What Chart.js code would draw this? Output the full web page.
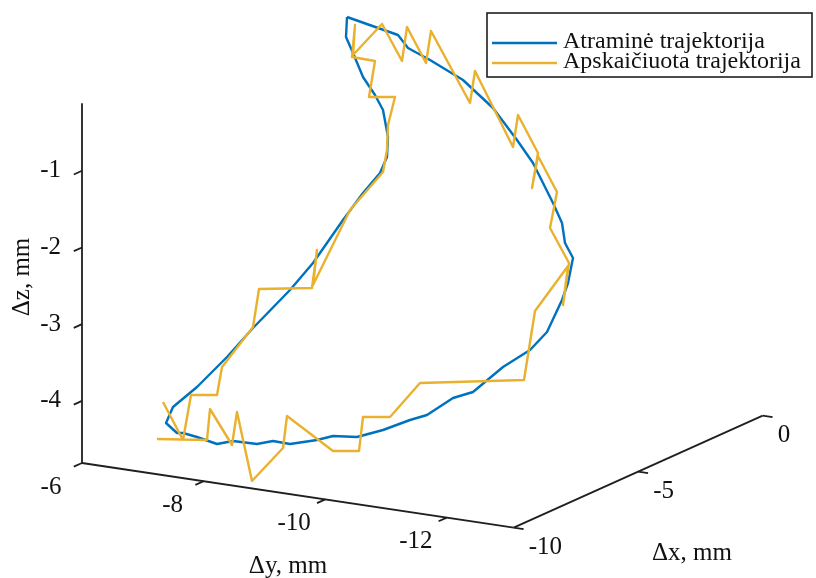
<!DOCTYPE html>
<html>
<head>
<meta charset="utf-8">
<script src="https://cdn.jsdelivr.net/npm/chart.js@4.4.1/dist/chart.umd.min.js"></script>
<style>
  body { margin: 0; background: #fff; }
  #wrap { width: 816px; height: 578px; }
</style>
</head>
<body>
<div id="wrap"><canvas id="traj"></canvas></div>
<script>
var refU = [347, 398, 408, 430, 463, 493, 517, 533, 553, 562, 565, 573, 568, 562, 547, 530, 503, 473, 453, 427, 410, 383, 357, 333, 317, 290, 273, 257, 233, 217, 197, 183, 177, 166, 173, 197, 227, 253, 290, 313, 343, 363, 380, 387, 388, 383, 375, 363, 353, 346, 347];
var refV = [17, 35, 48, 60, 80, 108, 140, 163, 203, 223, 243, 258, 283, 300, 332, 350, 367, 392, 398, 415, 420, 430, 437, 436, 440, 444, 441, 444, 441, 444, 437, 433, 433, 423, 407, 387, 357, 328, 290, 263, 220, 193, 173, 157, 137, 110, 95, 77, 53, 37, 17];

var calcU = [163, 183, 191, 217, 222, 253, 259, 312, 317, 313, 350, 383, 387, 388, 395, 369, 375, 352, 355, 353, 382, 402, 407, 426, 431, 470, 475, 513, 518, 538, 532, 538, 557, 550, 569, 563, 568, 535, 524, 420, 390, 363, 359, 333, 287, 283, 252, 237, 232, 210, 207, 157];
var calcV = [402, 440, 395, 395, 367, 327, 289, 288, 250, 285, 210, 172, 150, 125, 97, 97, 61, 57, 25, 55, 24, 61, 27, 63, 31, 103, 71, 147, 115, 153, 188, 156, 192, 228, 263, 305, 266, 311, 380, 383, 417, 417, 451, 451, 416, 448, 481, 412, 445, 409, 440, 439];

// axis ticks (mm)
var xTicks = [-10, -5, 0];
var yTicks = [-6, -8, -10, -12];
var zTicks = [-1, -2, -3, -4];
var xLim = [-10, 0];
var yLim = [-13.1, -6];
var zLim = [-4.81, -0.12];

// view: where the corner (xmin, ymax, zmin) lands and how one mm moves on screen
var corner = { u: 82, v: 463 };
var ex = { u: 24.9, v: -11.2 };
var ey = { u: -60.8, v: -9.1 };
var ez = { u: 0, v: -76.7 };

function proj(x, y, z) {
  var a = x - xLim[0], b = y - yLim[1], c = z - zLim[0];
  return { x: corner.u + a*ex.u + b*ey.u + c*ez.u,
           y: corner.v + a*ex.v + b*ey.v + c*ez.v };
}

function zip(us, vs) {
  return us.map(function(u, i) { return { x: u, y: vs[i] }; });
}

var axisColor = '#1f1f1f';
var font = "25px 'Liberation Serif', 'Times New Roman', serif";
var legendFont = "24px 'Liberation Serif', 'Times New Roman', serif";

function axisLine(pts) {
  return { data: pts, showLine: true, borderColor: axisColor, borderWidth: 1.8,
           pointRadius: 0, fill: false, order: 3 };
}

var datasets = [
  {
    label: 'Atraminė trajektorija',
    data: zip(refU, refV),
    showLine: true,
    borderColor: '#0072BD',
    borderWidth: 2.4,
    pointRadius: 0,
    borderJoinStyle: 'round',
    order: 2
  },
  {
    label: 'Apskaičiuota trajektorija',
    data: zip(calcU, calcV),
    showLine: true,
    borderColor: '#E9B12E',
    borderWidth: 2.4,
    pointRadius: 0,
    borderJoinStyle: 'round',
    order: 1
  }
];

// the three axes
datasets.push(axisLine([proj(xLim[0], yLim[1], zLim[0]), proj(xLim[0], yLim[1], zLim[1])]));
datasets.push(axisLine([proj(xLim[0], yLim[1], zLim[0]), proj(xLim[0], yLim[0], zLim[0])]));
datasets.push(axisLine([proj(xLim[0], yLim[0], zLim[0]), proj(xLim[1], yLim[0], zLim[0])]));

// tick marks
var exLen = Math.hypot(ex.u, ex.v), eyLen = Math.hypot(ey.u, ey.v);
zTicks.forEach(function(t) {
  var p = proj(xLim[0], yLim[1], t);
  datasets.push(axisLine([p, { x: p.x - 9*ex.u/exLen, y: p.y - 9*ex.v/exLen }]));
});
yTicks.forEach(function(t) {
  var p = proj(xLim[0], t, zLim[0]);
  datasets.push(axisLine([p, { x: p.x - 9*ex.u/exLen, y: p.y - 9*ex.v/exLen }]));
});
xTicks.forEach(function(t) {
  var p = proj(t, yLim[0], zLim[0]);
  datasets.push(axisLine([p, { x: p.x - 10*ey.u/eyLen, y: p.y - 10*ey.v/eyLen }]));
});

// tick labels, axis titles and legend
var textPlugin = {
  id: 'textPlugin',
  afterDraw: function(chart) {
    var ctx = chart.ctx;
    var sx = chart.scales.x, sy = chart.scales.y;
    function px(p) { return { x: sx.getPixelForValue(p.x), y: sy.getPixelForValue(p.y) }; }
    ctx.save();
    ctx.font = font;
    ctx.fillStyle = '#111';
    ctx.textBaseline = 'middle';

    ctx.textAlign = 'right';
    zTicks.forEach(function(t) {
      var p = px(proj(xLim[0], yLim[1], t));
      ctx.fillText(String(t), p.x - 21, p.y);
    });
    ctx.textAlign = 'center';
    yTicks.forEach(function(t) {
      var p = px(proj(xLim[0], t, zLim[0]));
      ctx.fillText(String(t), p.x - 31, p.y + 24);
    });
    ctx.textAlign = 'left';
    xTicks.forEach(function(t) {
      var p = px(proj(t, yLim[0], zLim[0]));
      ctx.fillText(String(t), p.x + 15, p.y + 20);
    });

    ctx.textAlign = 'center';
    ctx.fillText('Δy, mm', 288, 566);
    ctx.fillText('Δx, mm', 692, 553);
    ctx.save();
    ctx.translate(22, 277);
    ctx.rotate(-Math.PI / 2);
    ctx.fillText('Δz, mm', 0, 0);
    ctx.restore();

    // legend
    var lx = 487, ly = 13, lw = 325, lh = 64;
    ctx.fillStyle = '#fff';
    ctx.fillRect(lx, ly, lw, lh);
    ctx.strokeStyle = '#1f1f1f';
    ctx.lineWidth = 1.6;
    ctx.strokeRect(lx, ly, lw, lh);
    ctx.textAlign = 'left';
    ctx.font = legendFont;
    [0, 1].forEach(function(i) {
      var ds = chart.data.datasets[i];
      var yy = ly + 30 + i * 20;
      ctx.strokeStyle = ds.borderColor;
      ctx.lineWidth = 2.4;
      ctx.beginPath();
      ctx.moveTo(lx + 5, yy);
      ctx.lineTo(lx + 70, yy);
      ctx.stroke();
      ctx.fillStyle = '#111';
      ctx.fillText(ds.label, lx + 76, yy - 1);
    });
    ctx.restore();
  }
};

new Chart(document.getElementById('traj'), {
  type: 'scatter',
  data: { datasets: datasets },
  options: {
    responsive: true,
    maintainAspectRatio: false,
    animation: false,
    layout: { padding: 0 },
    elements: { line: { tension: 0 } },
    scales: {
      x: { type: 'linear', min: 0, max: 816, display: false },
      y: { type: 'linear', min: 0, max: 578, reverse: true, display: false }
    },
    plugins: {
      legend: { display: false },
      tooltip: { enabled: false }
    }
  },
  plugins: [textPlugin]
});
</script>
</body>
</html>
